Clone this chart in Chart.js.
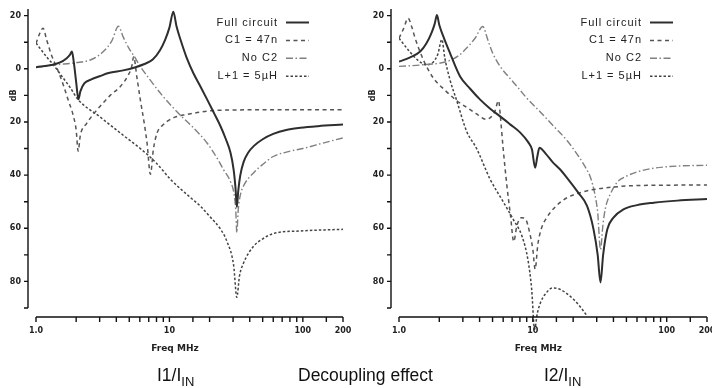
<!DOCTYPE html>
<html>
<head>
<meta charset="utf-8">
<script src="https://cdn.jsdelivr.net/npm/chart.js@4.4.0/dist/chart.umd.min.js"></script>
<style>
    body { margin: 0; background: #fff; width: 712px; height: 388px; overflow: hidden; position: relative; font-family: "Liberation Sans", Arial, sans-serif; }
    canvas { position: absolute; top: 0; }
    #leftChart { left: 0; }
    #rightChart { left: 356px; }
    .cap { position: absolute; top: 365px; font-size: 17.5px; color: #111; white-space: nowrap; line-height: 20px; }
    .cap sub { font-size: 13px; vertical-align: -5px; line-height: 0; }
</style>
</head>
<body>
<canvas id="leftChart" width="356" height="388"></canvas>
<canvas id="rightChart" width="362" height="388"></canvas>
<div class="cap" style="left:157px">I1/I<sub>IN</sub></div>
<div class="cap" style="left:298px">Decoupling effect</div>
<div class="cap" style="left:544px">I2/I<sub>IN</sub></div>
<script>
// Series labels
const seriesLabels = ['Full circuit', 'C1 = 47n', 'No C2', 'L+1 = 5\u00b5H'];

// x tick labels (MHz) that carry text
const xTickText = { 1: '1.0', 10: '10', 100: '100', 200: '200' };

// ---- left panel: I1/IIN ----
const leftFullFreq = [1.0, 1.3, 1.5, 1.7, 1.8, 1.86, 1.92, 2.0, 2.08, 2.15, 2.3, 2.6, 3.0, 3.5, 4.5, 5.5, 6.5, 7.5, 8.5, 9.3, 10.0, 10.7, 11.3, 12.1, 13.5, 15.1, 17.0, 19.2, 21.5, 24.2, 26.5, 28.7, 30.3, 31.3, 32.0, 32.8, 34.0, 36.0, 39.0, 43.0, 50.0, 60.0, 75.0, 96.0, 130.0, 200.0];
const leftFullDb = [0.6, 1.4, 2.3, 4.0, 5.3, 6.5, 2.5, -5.0, -11.5, -8.5, -5.5, -4.0, -2.8, -1.6, -0.6, 0.5, 1.8, 3.5, 7.0, 11.0, 15.5, 21.5, 16.0, 11.0, 4.0, -1.6, -6.5, -11.6, -16.5, -21.7, -26.5, -31.6, -38.0, -45.0, -52.0, -46.0, -40.0, -35.0, -31.5, -29.0, -26.5, -24.5, -23.0, -22.2, -21.6, -21.0];

const leftC1Freq = [1.0, 1.06, 1.13, 1.2, 1.3, 1.47, 1.6, 1.75, 1.9, 2.0, 2.07, 2.15, 2.4, 2.7, 3.0, 3.6, 4.3, 4.9, 5.2, 5.4, 5.7, 6.05, 6.5, 6.8, 7.2, 7.6, 8.1, 9.0, 9.6, 11.0, 13.5, 17.0, 21.4, 30.0, 54.0, 200.0];
const leftC1Db = [9.5, 13.0, 15.3, 11.0, 5.5, -1.0, -6.0, -12.0, -17.5, -23.0, -31.0, -25.0, -20.5, -17.0, -14.3, -10.0, -6.6, -2.5, 0.5, 4.5, -3.0, -11.6, -21.0, -28.0, -39.7, -30.0, -24.0, -21.0, -19.8, -18.2, -17.2, -16.3, -15.7, -15.5, -15.4, -15.4];

const leftNoC2Freq = [1.0, 1.4, 2.0, 2.6, 3.2, 3.7, 4.15, 4.5, 5.0, 5.4, 6.05, 7.0, 9.0, 12.1, 15.0, 19.2, 23.0, 25.5, 28.7, 30.5, 31.4, 32.0, 32.8, 34.0, 36.0, 43.0, 50.0, 60.0, 80.0, 100.0, 140.0, 200.0];
const leftNoC2Db = [0.5, 1.5, 2.3, 3.5, 6.5, 10.5, 16.0, 12.0, 7.5, 5.0, 0.9, -3.5, -10.5, -17.5, -22.0, -28.0, -34.0, -38.0, -42.5, -47.0, -53.0, -61.6, -53.0, -47.5, -44.0, -39.0, -36.0, -33.0, -31.0, -30.0, -28.0, -26.0];

const leftLFreq = [1.0, 1.2, 1.35, 1.6, 1.8, 2.07, 3.0, 4.5, 6.05, 8.0, 10.2, 14.8, 17.0, 20.0, 24.2, 27.0, 30.3, 32.0, 33.5, 36.0, 43.0, 50.0, 60.0, 96.0, 200.0];
const leftLDb = [9.7, 4.5, 1.5, -3.5, -7.0, -11.6, -18.0, -25.0, -30.0, -35.5, -41.6, -49.0, -51.6, -55.5, -60.4, -65.0, -74.0, -86.0, -78.0, -73.0, -66.6, -64.0, -62.0, -61.0, -60.4];

// ---- right panel: I2/IIN ----
const rightFullFreq = [1.0, 1.2, 1.44, 1.6, 1.75, 1.85, 1.92, 2.0, 2.15, 2.4, 2.86, 3.4, 4.04, 4.8, 5.7, 6.8, 8.05, 9.2, 9.85, 10.4, 10.8, 11.2, 12.5, 14.0, 16.0, 18.0, 21.9, 25.4, 28.4, 30.5, 32.0, 33.5, 36.0, 40.0, 47.5, 60.0, 80.0, 120.0, 200.0];
const rightFullDb = [2.7, 4.2, 6.5, 9.5, 13.5, 17.0, 20.2, 16.5, 12.0, 6.0, -2.9, -7.5, -11.6, -15.0, -17.9, -21.0, -24.0, -27.5, -30.4, -37.2, -33.0, -29.7, -32.0, -35.0, -37.9, -41.0, -46.7, -51.6, -60.4, -70.0, -80.4, -70.0, -60.4, -56.0, -52.9, -51.3, -50.4, -49.6, -49.0];

const rightC1Freq = [1.0, 1.08, 1.17, 1.25, 1.32, 1.52, 1.8, 2.2, 2.7, 3.2, 3.8, 4.5, 4.9, 5.2, 5.55, 5.7, 6.0, 6.4, 6.8, 7.2, 7.6, 8.2, 8.8, 9.5, 10.0, 10.4, 10.9, 11.6, 12.7, 15.0, 18.0, 23.0, 28.5, 40.0, 54.0, 100.0, 200.0];
const rightC1Db = [11.5, 15.0, 19.0, 15.5, 11.5, 3.4, -3.4, -8.0, -12.0, -14.5, -17.0, -19.0, -18.0, -16.0, -12.0, -17.0, -30.0, -44.0, -55.0, -65.0, -59.0, -56.0, -56.5, -62.0, -68.0, -75.4, -66.0, -60.0, -56.0, -51.5, -48.5, -46.5, -45.4, -44.5, -44.0, -43.8, -43.7];

const rightNoC2Freq = [1.0, 1.5, 2.27, 2.8, 3.2, 3.7, 4.23, 4.6, 5.0, 5.7, 7.0, 8.0, 9.0, 11.5, 14.3, 18.0, 22.0, 25.0, 27.0, 29.0, 30.5, 32.0, 33.5, 35.0, 38.0, 43.0, 50.0, 60.0, 80.0, 120.0, 200.0];
const rightNoC2Db = [0.9, 1.5, 2.7, 5.0, 7.8, 11.5, 15.9, 11.0, 6.0, 0.9, -4.5, -7.9, -11.0, -16.5, -21.6, -27.0, -33.0, -37.5, -41.0, -47.0, -54.0, -68.0, -58.0, -52.0, -47.0, -42.5, -40.4, -38.8, -37.4, -36.6, -36.3];

const rightLFreq = [1.0, 1.2, 1.4, 1.6, 1.8, 1.95, 2.09, 2.2, 2.4, 2.7, 3.2, 3.8, 4.8, 6.0, 7.2, 8.3, 9.2, 9.8, 10.3, 10.8, 11.4, 12.5, 14.0, 16.0, 20.0, 23.0, 25.4];
const rightLDb = [11.5, 6.5, 3.0, 1.5, 2.5, 5.5, 11.0, 4.0, -4.0, -12.0, -23.5, -30.0, -41.6, -50.0, -57.0, -63.0, -72.0, -83.0, -98.0, -92.0, -88.0, -84.5, -82.5, -83.0, -86.6, -90.0, -93.0];

// line looks, same order as seriesLabels
const lineStyles = [
    { color: '#2e2e2e', width: 2, dash: [] },
    { color: '#555', width: 1.5, dash: [4, 3.5] },
    { color: '#808080', width: 1.4, dash: [7, 2.5, 1.5, 2.5] },
    { color: '#444', width: 1.5, dash: [2.5, 2] },
];

function toPoints(freqs, dbs) {
    return freqs.map((f, i) => ({ x: f, y: dbs[i] }));
}

function makeDatasets(sets) {
    return sets.map((s, i) => ({
        label: seriesLabels[i],
        data: toPoints(s[0], s[1]),
        borderColor: lineStyles[i].color,
        borderWidth: lineStyles[i].width,
        borderDash: lineStyles[i].dash,
        pointRadius: 0,
        fill: false,
        cubicInterpolationMode: 'monotone',
        clip: { left: 0, top: 0, right: 0, bottom: 30 },
    }));
}

function xLabel(v) {
    return xTickText[v] || '';
}

function yLabel(v) {
    return v % 20 === 0 ? String(Math.abs(v)) : '';
}

// axes sit a little away from the plot, legend sits top right
const decorPlugin = {
    id: 'decor',
    afterDraw(chart, args, opts) {
        const { ctx, chartArea: a, scales: { x, y } } = chart;
        const ax = a.left - 8;
        const ay = a.bottom + 9;

        ctx.save();
        ctx.strokeStyle = '#111';
        ctx.lineWidth = 1.4;
        ctx.beginPath();
        ctx.moveTo(ax, a.top);
        ctx.lineTo(ax, a.bottom);
        y.ticks.forEach((t) => {
            const py = y.getPixelForValue(t.value);
            ctx.moveTo(ax - 4, py);
            ctx.lineTo(ax, py);
        });
        ctx.moveTo(x.getPixelForValue(x.min), ay);
        ctx.lineTo(x.getPixelForValue(x.max), ay);
        x.ticks.forEach((t) => {
            const px = x.getPixelForValue(t.value);
            ctx.moveTo(px, ay);
            ctx.lineTo(px, ay + 5);
        });
        ctx.stroke();

        // tick labels
        ctx.fillStyle = '#222';
        ctx.font = 'bold 8px "DejaVu Sans"';
        ctx.textBaseline = 'middle';
        ctx.textAlign = 'right';
        y.ticks.forEach((t) => {
            ctx.fillText(yLabel(t.value), ax - 7, y.getPixelForValue(t.value));
        });
        ctx.textAlign = 'center';
        x.ticks.forEach((t) => {
            ctx.fillText(xLabel(t.value), x.getPixelForValue(t.value), ay + 14);
        });

        // axis titles
        ctx.font = 'bold 9px "DejaVu Sans"';
        ctx.fillText('Freq MHz', x.getPixelForValue(11), 349);
        ctx.translate(ax - opts.dbGap, y.getPixelForValue(-10));
        ctx.rotate(-Math.PI / 2);
        ctx.font = 'bold 8px "DejaVu Sans"';
        ctx.fillText('dB', 0, 0);
        ctx.restore();

        // legend: text right aligned, sample line after it
        ctx.save();
        ctx.font = '11px "Liberation Sans"';
        ctx.letterSpacing = '1px';
        ctx.textAlign = 'right';
        ctx.textBaseline = 'middle';
        chart.data.datasets.forEach((ds, i) => {
            const ly = 22.5 + i * 17.9;
            ctx.fillStyle = '#222';
            ctx.fillText(ds.label, a.right - 65, ly);
            ctx.strokeStyle = ds.borderColor;
            ctx.lineWidth = ds.borderWidth;
            ctx.setLineDash(ds.borderDash);
            ctx.beginPath();
            ctx.moveTo(a.right - 57, ly);
            ctx.lineTo(a.right - 34, ly);
            ctx.stroke();
        });
        ctx.restore();
    },
};

function makeChart(id, sets, plotLeft, padRight, dbGap) {
    const ctx = document.getElementById(id).getContext('2d');
    return new Chart(ctx, {
        type: 'line',
        data: { datasets: makeDatasets(sets) },
        options: {
            responsive: false,
            animation: false,
            devicePixelRatio: 1,
            layout: { autoPadding: false, padding: { top: 9, right: padRight, left: 0, bottom: 0 } },
            plugins: {
                legend: { display: false },
                tooltip: { enabled: false },
                decor: { dbGap },
            },
            scales: {
                x: {
                    type: 'logarithmic',
                    min: 1,
                    max: 200,
                    grid: { display: false, drawTicks: false },
                    border: { display: false },
                    ticks: { display: false, autoSkip: false },
                    afterFit: (s) => { s.height = 80; },
                },
                y: {
                    min: -90,
                    max: 22.5,
                    grid: { display: false, drawTicks: false },
                    border: { display: false },
                    ticks: { display: false, stepSize: 10, includeBounds: false },
                    afterFit: (s) => { s.width = plotLeft; },
                },
            },
        },
        plugins: [decorPlugin],
    });
}

makeChart('leftChart', [
    [leftFullFreq, leftFullDb],
    [leftC1Freq, leftC1Db],
    [leftNoC2Freq, leftNoC2Db],
    [leftLFreq, leftLDb],
], 36, 13, 14);

makeChart('rightChart', [
    [rightFullFreq, rightFullDb],
    [rightC1Freq, rightC1Db],
    [rightNoC2Freq, rightNoC2Db],
    [rightLFreq, rightLDb],
], 43, 11, 18);
</script>
</body>
</html>
